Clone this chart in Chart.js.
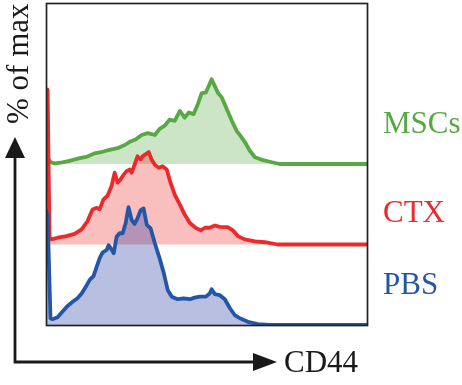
<!DOCTYPE html>
<html lang="en">
<head>
    <meta charset="UTF-8">
    <title>CD44 histograms</title>
    <script src="https://cdn.jsdelivr.net/npm/chart.js"></script>
    <style>
        body {
            margin: 0;
            padding: 0;
            background: #ffffff;
        }
        canvas {
            display: block;
        }
    </style>
</head>
<body>
    <canvas id="cd44Chart" width="462" height="385"></canvas>

    <script>
        // series names (top to bottom)
        const groups = ['MSCs', 'CTX', 'PBS'];

        // CD44 channel (0-100) and % of max for each histogram
        const mscsX = [0, 0.2, 1.4, 2.7, 5.1, 7.3, 10.5, 12.9, 15.1, 17.6, 19.8, 22.3, 24.5, 26.1, 27.9, 29.8, 31.7, 33.9, 35.4, 37.0, 38.5, 40.1, 41.7, 43.2, 44.5, 46.0, 47.3, 48.5, 49.8, 50.7, 51.6, 52.6, 53.5, 54.8, 56.3, 57.9, 59.4, 60.7, 61.9, 63.5, 65.1, 67.2, 69.7, 72.8, 100];
        const mscsY = [2.6, 2.2, 0.6, 0.2, 0.5, 1.0, 1.8, 2.3, 3.3, 3.8, 4.4, 4.9, 5.9, 6.9, 7.6, 9.0, 9.6, 9.0, 10.9, 11.9, 13.8, 13.4, 16.5, 14.4, 16.0, 15.5, 18.6, 22.0, 22.2, 24.2, 26.3, 24.2, 22.2, 20.6, 17.1, 13.4, 10.3, 8.6, 6.9, 4.1, 2.1, 1.3, 0.7, 0, 0];

        const ctxX = [0, 0.5, 1.1, 1.7, 3.6, 6.4, 8.9, 11.1, 12.9, 14.5, 15.8, 16.7, 17.9, 19.2, 20.4, 21.4, 22.3, 23.2, 24.2, 25.1, 26.1, 26.7, 27.6, 28.5, 29.5, 30.1, 31.0, 32.0, 32.9, 33.9, 35.1, 36.3, 37.6, 38.8, 40.1, 41.7, 43.2, 44.8, 46.6, 48.2, 49.5, 51.0, 52.6, 54.1, 56.6, 58.2, 59.8, 61.9, 65.1, 68.2, 72.2, 100];
        const ctxY = [48.1, 48.1, 2.1, 1.6, 2.1, 2.6, 3.3, 4.7, 7.2, 10.9, 11.4, 10.9, 14.0, 15.2, 18.1, 22.3, 19.2, 20.2, 21.7, 22.8, 23.3, 22.3, 24.8, 27.4, 26.4, 27.4, 28.0, 28.7, 26.4, 24.8, 23.8, 24.3, 23.3, 19.2, 15.5, 12.4, 9.3, 6.7, 5.2, 4.4, 5.2, 5.2, 5.9, 5.5, 5.4, 4.4, 2.6, 1.6, 1.0, 0.7, 0, 0];

        const pbsX = [0, 0.5, 1.4, 2.0, 3.6, 5.1, 6.7, 8.3, 9.8, 11.1, 12.3, 13.6, 14.8, 15.8, 16.7, 17.6, 18.9, 19.5, 20.4, 21.1, 22.0, 22.9, 23.9, 24.8, 25.7, 26.7, 27.6, 28.5, 29.5, 30.4, 31.4, 32.6, 33.9, 35.4, 36.7, 37.9, 39.2, 41.0, 42.9, 44.8, 46.3, 47.9, 49.8, 51.0, 51.6, 52.6, 54.1, 55.7, 57.3, 58.8, 60.4, 62.9, 66.0, 69.7, 100];
        const pbsY = [35.7, 34.2, 2.1, 1.8, 2.4, 4.1, 5.9, 7.2, 8.3, 9.8, 11.7, 14.0, 15.2, 18.1, 20.7, 22.5, 23.3, 24.8, 23.5, 22.3, 27.4, 28.5, 28.5, 31.6, 36.6, 32.6, 31.4, 33.1, 35.7, 36.2, 31.1, 30.0, 25.4, 20.7, 16.1, 10.9, 8.8, 8.0, 8.3, 8.0, 8.5, 8.8, 8.8, 9.8, 11.1, 9.6, 9.3, 8.0, 5.2, 3.1, 2.1, 1.0, 0.3, 0, 0];

        const offsets = [50, 25, 0];
        const lineColors = ['#58a844', '#ec2a2c', '#2456a8'];
        const fillColors = ['rgba(90, 170, 70, 0.3)', 'rgba(235, 40, 40, 0.3)', 'rgba(40, 60, 160, 0.33)'];

        function toPoints(xs, ys, off) {
            return xs.map((x, i) => ({ x: x, y: ys[i] + off }));
        }

        const series = [
            toPoints(mscsX, mscsY, offsets[0]),
            toPoints(ctxX, ctxY, offsets[1]),
            toPoints(pbsX, pbsY, offsets[2])
        ];

        // frame, arrows and text around the plot
        const decorations = {
            id: 'decorations',
            afterDatasetsDraw(chart) {
                const ctx = chart.ctx;
                const a = chart.chartArea;
                const y = chart.scales.y;
                ctx.save();

                // plot frame
                ctx.strokeStyle = '#222222';
                ctx.lineWidth = 1.7;
                ctx.strokeRect(a.left + 0.5, a.top + 0.5, a.right - a.left, a.bottom - a.top);

                // outer axes with arrows
                const ax = a.left - 31;
                const ay = a.bottom + 37;
                ctx.strokeStyle = '#1a1a1a';
                ctx.fillStyle = '#1a1a1a';
                ctx.lineWidth = 2.8;
                ctx.beginPath();
                ctx.moveTo(ax, 156);
                ctx.lineTo(ax, ay);
                ctx.lineTo(254, ay);
                ctx.stroke();

                ctx.beginPath();
                ctx.moveTo(ax, 137);
                ctx.lineTo(ax - 10, 158);
                ctx.lineTo(ax + 10, 158);
                ctx.closePath();
                ctx.fill();

                ctx.beginPath();
                ctx.moveTo(277, ay);
                ctx.lineTo(253, ay - 9);
                ctx.lineTo(253, ay + 9);
                ctx.closePath();
                ctx.fill();

                ctx.font = '31px "Liberation Serif", "DejaVu Serif", serif';
                ctx.textBaseline = 'alphabetic';
                ctx.textAlign = 'left';
                ctx.fillText('CD44', 284, 372);

                ctx.save();
                ctx.translate(28, 124);
                ctx.rotate(-Math.PI / 2);
                ctx.fillText('% of max', 0, 0);
                ctx.restore();

                // group labels on the right
                const labelValues = [59.6, 32, 9.6];
                groups.forEach((g, i) => {
                    ctx.fillStyle = lineColors[i];
                    ctx.fillText(g, a.right + 16, y.getPixelForValue(labelValues[i]));
                });

                ctx.restore();
            }
        };

        new Chart(document.getElementById('cd44Chart'), {
            type: 'line',
            data: {
                datasets: groups.map((g, i) => ({
                    label: g,
                    data: series[i],
                    borderColor: lineColors[i],
                    backgroundColor: fillColors[i],
                    borderWidth: 3.8,
                    borderJoinStyle: 'round',
                    borderCapStyle: 'round',
                    pointRadius: 0,
                    tension: 0,
                    fill: { value: offsets[i] },
                    order: groups.length - i
                }))
            },
            options: {
                responsive: false,
                animation: false,
                layout: {
                    padding: { left: 46, top: 3, right: 95, bottom: 60 }
                },
                plugins: {
                    legend: { display: false },
                    tooltip: { enabled: false }
                },
                scales: {
                    x: { type: 'linear', min: 0, max: 100, display: false },
                    y: { min: 0, max: 100, display: false }
                }
            },
            plugins: [decorations]
        });
    </script>
</body>
</html>
